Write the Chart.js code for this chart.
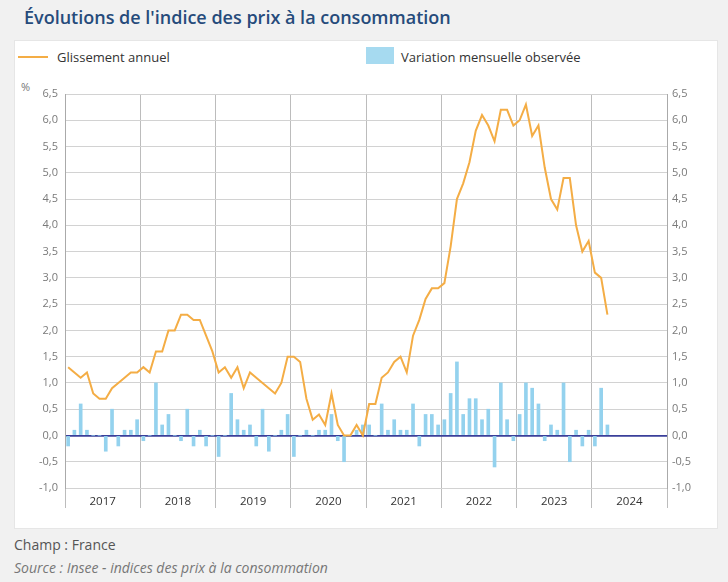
<!DOCTYPE html>
<html lang="fr">
<head>
<meta charset="UTF-8">
<title>Évolutions de l'indice des prix à la consommation</title>
<script src="https://cdn.jsdelivr.net/npm/chart.js@4"></script>
<style>
    body { margin: 0; width: 728px; height: 582px; background: #f1f1f1; font-family: "Open Sans", sans-serif; position: relative; overflow: hidden; }
    .titre { position: absolute; left: 24px; top: 4px; font-size: 18px; font-weight: 600; color: #264b7b; line-height: 26px; }
    .carte { position: absolute; left: 14px; top: 40px; width: 702px; height: 487px; background: #fff; border: 1px solid #e6e6e6; }
    .leg-ligne { position: absolute; left: 18px; top: 56px; width: 30px; height: 2px; background: #f4ad45; }
    .leg-carre { position: absolute; left: 366px; top: 47px; width: 28px; height: 17px; background: #a6daf0; }
    .leg-txt { position: absolute; top: 48px; font-size: 13px; line-height: 18px; color: #333; }
    .unite { position: absolute; left: 21px; top: 79px; font-size: 11px; color: #777; }
    .champ { position: absolute; left: 14px; top: 535px; font-size: 14px; line-height: 20px; color: #555; }
    .source { position: absolute; left: 14px; top: 558px; font-size: 14px; line-height: 20px; color: #777; font-style: italic; }
    #graphique { position: absolute; left: 14px; top: 66px; }
</style>
</head>
<body>
    <div class="titre">Évolutions de l'indice des prix à la consommation</div>
    <div class="carte"></div>
    <div class="leg-ligne"></div>
    <div class="leg-txt" style="left:57px">Glissement annuel</div>
    <div class="leg-carre"></div>
    <div class="leg-txt" style="left:401px">Variation mensuelle observée</div>
    <div class="unite">%</div>
    <canvas id="graphique" width="703" height="462"></canvas>
    <div class="champ">Champ : France</div>
    <div class="source">Source : Insee - indices des prix à la consommation</div>

<script>
    const annees = ['2017', '2018', '2019', '2020', '2021', '2022', '2023', '2024'];

    // glissement annuel, janv. 2017 -> mars 2024
    const glissement = [
        1.3, 1.2, 1.1, 1.2, 0.8, 0.7, 0.7, 0.9, 1.0, 1.1, 1.2, 1.2,
        1.3, 1.2, 1.6, 1.6, 2.0, 2.0, 2.3, 2.3, 2.2, 2.2, 1.9, 1.6,
        1.2, 1.3, 1.1, 1.3, 0.9, 1.2, 1.1, 1.0, 0.9, 0.8, 1.0, 1.5,
        1.5, 1.4, 0.7, 0.3, 0.4, 0.2, 0.8, 0.2, 0.0, 0.0, 0.2, 0.0,
        0.6, 0.6, 1.1, 1.2, 1.4, 1.5, 1.2, 1.9, 2.2, 2.6, 2.8, 2.8,
        2.9, 3.6, 4.5, 4.8, 5.2, 5.8, 6.1, 5.9, 5.6, 6.2, 6.2, 5.9,
        6.0, 6.3, 5.7, 5.9, 5.1, 4.5, 4.3, 4.9, 4.9, 4.0, 3.5, 3.7,
        3.1, 3.0, 2.3
    ];

    // variation mensuelle observée
    const variation = [
        -0.2, 0.1, 0.6, 0.1, 0.0, 0.0, -0.3, 0.5, -0.2, 0.1, 0.1, 0.3,
        -0.1, 0.0, 1.0, 0.2, 0.4, 0.0, -0.1, 0.5, -0.2, 0.1, -0.2, 0.0,
        -0.4, 0.0, 0.8, 0.3, 0.1, 0.2, -0.2, 0.5, -0.3, 0.0, 0.1, 0.4,
        -0.4, 0.0, 0.1, 0.0, 0.1, 0.1, 0.4, -0.1, -0.5, 0.0, 0.1, 0.2,
        0.2, 0.0, 0.6, 0.1, 0.3, 0.1, 0.1, 0.6, -0.2, 0.4, 0.4, 0.2,
        0.3, 0.8, 1.4, 0.4, 0.7, 0.7, 0.3, 0.5, -0.6, 1.0, 0.3, -0.1,
        0.4, 1.0, 0.9, 0.6, -0.1, 0.2, 0.1, 1.0, -0.5, 0.1, -0.2, 0.1,
        -0.2, 0.9, 0.2
    ];

    const yMin = -1, yMax = 6.5, yPas = 0.5;

    // chaque mois est centré dans sa case (12 cases par année)
    const enPoints = arr => arr.map((v, i) => ({ x: i + 0.5, y: v }));
    const virgule = v => v.toFixed(1).replace('.', ',');

    const police = { family: '"Open Sans", sans-serif', size: 11 };

    new Chart(document.getElementById('graphique'), {
        type: 'bar',
        data: {
            datasets: [{
                type: 'line',
                label: 'Glissement annuel',
                data: enPoints(glissement),
                borderColor: '#f4ad45',
                borderWidth: 2,
                pointRadius: 0,
                tension: 0,
                order: 0
            }, {
                type: 'bar',
                label: 'Variation mensuelle observée',
                data: enPoints(variation),
                backgroundColor: '#94d2ee',
                barThickness: 3,
                order: 1
            }]
        },
        options: {
            responsive: false,
            animation: false,
            layout: { padding: { top: 28, left: 0, right: 0, bottom: 0 } },
            plugins: { legend: { display: false }, tooltip: { enabled: false } },
            scales: {
                x: {
                    type: 'linear',
                    offset: false,
                    min: 0,
                    max: annees.length * 12,
                    afterFit: s => { s.height = 40; },
                    border: { display: false },
                    grid: {
                        offset: false,
                        color: c => c.tick && c.tick.value % 12 === 0 ? '#bcbcbc' : 'transparent',
                        tickColor: c => c.tick && c.tick.value % 12 === 0 ? '#bcbcbc' : 'transparent',
                        tickLength: 20
                    },
                    ticks: {
                        stepSize: 6,
                        autoSkip: false,
                        maxRotation: 0,
                        padding: -13,
                        color: '#333',
                        font: { family: police.family, size: 11.5 },
                        callback: v => v % 12 === 6 ? annees[(v - 6) / 12] : ''
                    }
                },
                y: {
                    position: 'left',
                    min: yMin,
                    max: yMax,
                    afterFit: s => { s.width = 51; },
                    border: { display: true, color: '#aaa' },
                    grid: {
                        drawTicks: false,
                        color: c => c.tick.value === 0 ? '#3a3f9a' : '#d2d2d2',
                        lineWidth: c => c.tick.value === 0 ? 1.8 : 1
                    },
                    ticks: { stepSize: yPas, padding: 7, color: '#7a7a7a', font: police, callback: virgule }
                },
                y2: {
                    position: 'right',
                    min: yMin,
                    max: yMax,
                    afterFit: s => { s.width = 50; },
                    border: { display: true, color: '#aaa' },
                    grid: { display: false, drawTicks: false },
                    ticks: { stepSize: yPas, padding: 5, color: '#7a7a7a', font: police, callback: virgule }
                }
            }
        }
    });
</script>
</body>
</html>
